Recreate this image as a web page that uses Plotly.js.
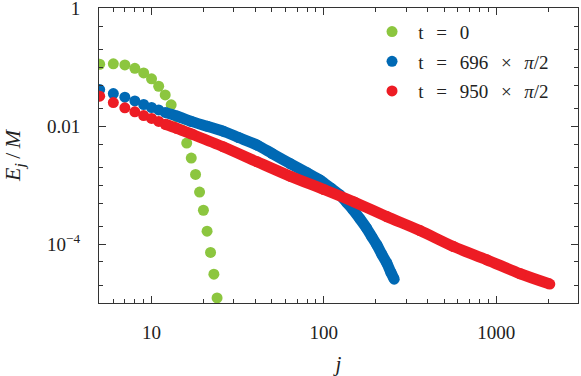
<!DOCTYPE html>
<html>
<head>
<meta charset="utf-8">
<script src="https://cdn.plot.ly/plotly-3.0.1.min.js"></script>
<style>html,body{margin:0;padding:0;background:#fff;}</style>
</head>
<body>
<div id="chart" style="width:581px;height:376px;"></div>
<script>
// energy per mode E_j/M against mode number j, log-log

var greenJ = [5,6,7,8,9,10,11,12,13,14,15,16,17,18,19,20,21,22,23,24];
var greenE = [0.114,0.116,0.111,0.0973,0.0813,0.0646,0.0482,0.0344,0.0233,0.0145,
              0.0087,0.00521,0.0029,0.00153,7.69e-4,3.77e-4,1.66e-4,7.24e-5,3.09e-5,1.22e-5];

var blueJ = [5,6,7,8,9,10,11,12,14,17,21,26,32,41,50,64,80,95,110,124,136,148,162,177,190,203,217,232,245,256];
var blueE = [0.0424,0.0362,0.0314,0.0272,0.0236,0.021,0.0191,0.0173,0.0151,0.0122,0.0101,0.00832,
             0.00649,0.00482,0.00348,0.00232,0.00163,0.00123,8.93e-4,6.85e-4,5.07e-4,3.81e-4,
             2.69e-4,1.87e-4,1.33e-4,9.73e-5,6.71e-5,4.76e-5,3.31e-5,2.54e-5];

var redJ = [5,6,7,8,9,10,11,12,14,17,26,41,64,100,150,232,361,565,883,1380,2048];
var redE = [0.0327,0.0255,0.0207,0.0177,0.0153,0.0137,0.0122,0.0109,0.00931,0.00746,0.00453,
            0.00251,0.00142,8.49e-4,5.21e-4,2.94e-4,1.7e-4,9.1e-5,5.42e-5,3.14e-5,2.1e-5];

var sp = '\u2004', gap = '\u2004\u2004';
var names = [sp + 't' + gap + '=' + gap + '0',
             sp + 't' + gap + '=' + gap + '696' + gap + '\u00d7' + gap + '<i>\u03c0</i>/2',
             sp + 't' + gap + '=' + gap + '950' + gap + '\u00d7' + gap + '<i>\u03c0</i>/2'];

var xTickVals = [10,100,1000];
var xTickText = ['10','100','1000'];
var xMinor = [5,6,7,8,9,20,30,40,50,60,70,80,90,200,300,400,500,600,700,800,900,2000,3000];
var yTickVals = [1,0.01,1e-4];
var yTickText = ['1','0.01','10<sup>\u22124</sup>'];
var yMinor = [0.5,0.2,0.1,0.05,0.02,0.005,0.002,0.001,5e-4,2e-4,5e-5,2e-5,1e-5];

var green = '#8cc63f', blue = '#0069b4', red = '#ed1c24';
var msize = 11;

// dense tail of each series merges into a band, so draw a thick line under the dots
function band(J, E, color) {
    var x = [], y = [];
    for (var i = 0; i < J.length; i++) {
        if (J[i] >= 12) { x.push(J[i]); y.push(E[i]); }
    }
    return {x: x, y: y, mode: 'lines',
            line: {color: color, width: msize, shape: 'spline', smoothing: 0.8},
            showlegend: false, hoverinfo: 'skip'};
}

function dots(J, E, color, name, grp) {
    return {x: J, y: E, mode: 'markers', name: name, legendgroup: grp,
            marker: {color: color, size: msize}};
}

var data = [
    dots(greenJ, greenE, green, names[0], 'g'),
    band(blueJ, blueE, blue),
    dots(blueJ, blueE, blue, names[1], 'b'),
    band(redJ, redE, red),
    dots(redJ, redE, red, names[2], 'r')
];

var serif = "'Liberation Serif', 'DejaVu Serif', serif";

var layout = {
    width: 581,
    height: 376,
    margin: {l: 99, r: 3, t: 8, b: 73},
    paper_bgcolor: '#fff',
    plot_bgcolor: '#fff',
    font: {family: serif, size: 19, color: '#222'},
    showlegend: true,
    legend: {x: 0.57, y: 0.984, xanchor: 'left', yanchor: 'top',
             bgcolor: 'rgba(0,0,0,0)', tracegroupgap: 2},
    xaxis: {
        type: 'log',
        range: [0.695, 3.475],
        tickmode: 'array',
        tickvals: xTickVals,
        ticktext: xTickText,
        ticks: 'inside',
        ticklen: 7,
        tickcolor: '#333',
        showline: true,
        linecolor: '#333',
        mirror: 'ticks',
        showgrid: false,
        zeroline: false,
        ticklabelstandoff: 12,
        minor: {tickvals: xMinor, ticks: 'inside', ticklen: 4, tickcolor: '#333', showgrid: false},
        title: {text: '<i>j</i>', standoff: 15, font: {size: 21}}
    },
    yaxis: {
        type: 'log',
        range: [-5.0, 0.013],
        tickmode: 'array',
        tickvals: yTickVals,
        ticktext: yTickText,
        ticks: 'inside',
        ticklen: 7,
        tickcolor: '#333',
        showline: true,
        linecolor: '#333',
        mirror: 'ticks',
        showgrid: false,
        zeroline: false,
        ticklabeloverflow: 'allow',
        ticklabelstandoff: 14,
        minor: {tickvals: yMinor, ticks: 'inside', ticklen: 4, tickcolor: '#333', showgrid: false},
        title: {text: '<i>E</i><sub><i>j</i></sub>\u2009/\u2009<i>M</i>', standoff: 23, font: {size: 22}}
    }
};

Plotly.newPlot('chart', data, layout, {displayModeBar: false});
</script>
</body>
</html>
